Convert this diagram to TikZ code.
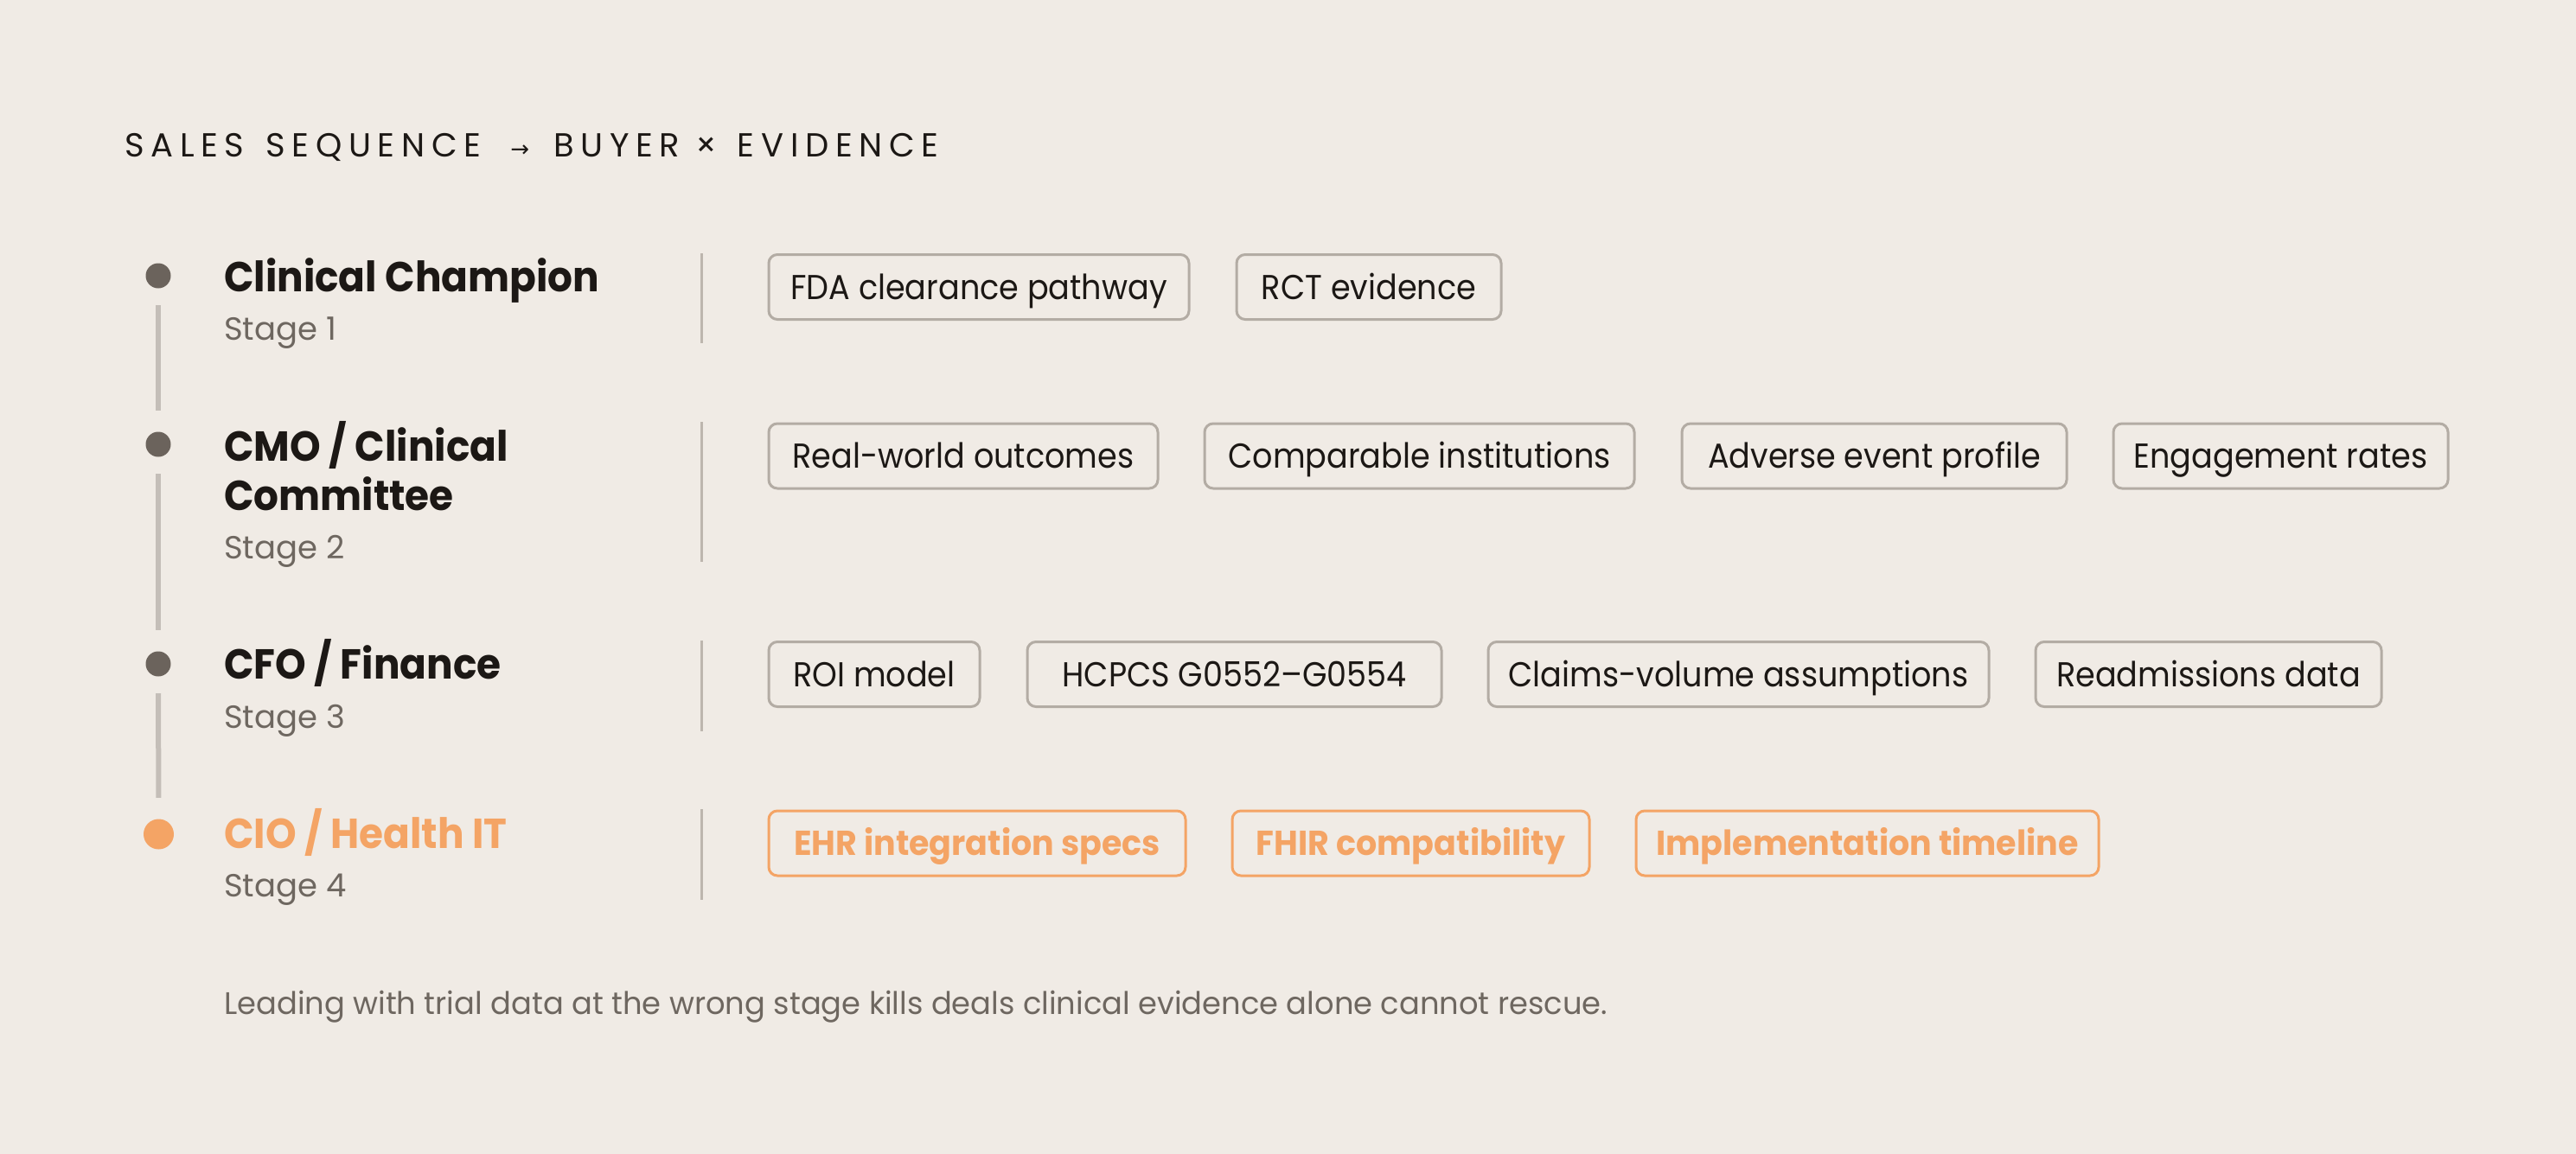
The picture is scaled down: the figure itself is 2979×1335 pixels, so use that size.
\documentclass[tikz,border=0pt]{standalone}
\usepackage{fontspec}
\setmainfont{Poppins}
\newfontfamily\symfont{DejaVu Sans}
\newfontfamily\headfont[FakeStretch=0.935]{Poppins}
\newfontfamily\tagfont[FakeStretch=0.915]{Poppins}
\newfontfamily\tagboldfont[FakeStretch=0.95]{Poppins}
\newfontfamily\footfont[FakeStretch=0.98]{Poppins}
\newfontfamily\titlefont[LetterSpace=20]{Poppins}
\definecolor{bg}{HTML}{F0EBE5}
\definecolor{ink}{HTML}{1C1815}
\definecolor{muted}{HTML}{6E6760}
\definecolor{dotcol}{HTML}{6B635C}
\definecolor{railcol}{HTML}{C4BEB8}
\definecolor{sepcol}{HTML}{BDB6AE}
\definecolor{tagline}{HTML}{B3ACA4}
\definecolor{accent}{HTML}{F4A465}
\begin{document}
\begin{tikzpicture}[x=1pt,y=-1pt,
  head/.style={anchor=base west, inner sep=0pt, font=\headfont\fontsize{48.5}{57}\selectfont\bfseries, text=ink},
  stagelbl/.style={anchor=base west, inner sep=0pt, font=\fontsize{37}{44}\selectfont, text=muted},
  tagbox/.style={draw=tagline, line width=3pt, rounded corners=10pt, minimum height=75pt, inner sep=0pt, anchor=west, text height=28pt, text depth=0pt, font=\tagfont\fontsize{40}{48}\selectfont, text=ink},
  tagacc/.style={tagbox, draw=accent, text=accent, font=\tagboldfont\fontsize{40}{48}\selectfont\bfseries},
  sepline/.style={draw=sepcol, line width=3pt},
  rail/.style={draw=railcol, line width=6pt, shorten <=19.5pt, shorten >=24.5pt},
  dotnode/.style={circle, fill=dotcol, minimum size=29pt, inner sep=0pt},
  dotacc/.style={circle, fill=accent, minimum size=35pt, inner sep=0pt}
]
\fill[bg] (0,0) rectangle (2979,1335);
\useasboundingbox (0,0) rectangle (2979,1335);

% title
\node[anchor=base west, inner sep=0pt, font=\titlefont\fontsize{38.5}{46}\selectfont, text=ink] (title) at (144,182)
  {SALES\hspace{7pt} SEQUENCE\hspace{34pt}{\symfont\fontsize{26}{36}\selectfont →}\hspace{28pt}BUYER × \hspace{6pt}EVIDENCE};

% timeline dots
\node[dotnode] (d1) at (183,319) {};
\node[dotnode] (d2) at (183,514) {};
\node[dotnode] (d3) at (183,768) {};
\node[dotacc]  (d4) at (183.5,965) {};
\draw[rail] (d1) -- (d2);
\draw[rail] (d2) -- (d3);
\draw[rail] (d3) -- (d4);

% headings
\node[head] (h1) at (259,337) {Clinical Champion};
\node[stagelbl] (st1) at (259,393) {Stage 1};
\node[head] (h2a) at (259,533) {CMO / Clinical};
\node[head] (h2b) at (259,590) {Committee};
\node[stagelbl] (st2) at (259,646) {Stage 2};
\node[head] (h3) at (259,785) {CFO / Finance};
\node[stagelbl] (st3) at (259,842) {Stage 3};
\node[head, text=accent] (h4) at (259,981) {CIO / Health IT};
\node[stagelbl] (st4) at (259,1037) {Stage 4};

% separators
\coordinate (s1t) at (811,293); \coordinate (s1b) at (811,397);
\coordinate (s2t) at (811,488); \coordinate (s2b) at (811,650);
\coordinate (s3t) at (811,741); \coordinate (s3b) at (811,846);
\coordinate (s4t) at (811,936); \coordinate (s4b) at (811,1041);
\draw[sepline] (s1t) -- (s1b);
\draw[sepline] (s2t) -- (s2b);
\draw[sepline] (s3t) -- (s3b);
\draw[sepline] (s4t) -- (s4b);

% row 1
\node[tagbox, minimum width=486pt] (t11) at (887.5,332) {FDA clearance pathway};
\node[tagbox, minimum width=306pt] (t12) at (1428.5,332) {RCT evidence};
% row 2
\node[tagbox, minimum width=450pt] (t21) at (887.5,527.5) {Real-world outcomes};
\node[tagbox, minimum width=497pt] (t22) at (1391.5,527.5) {Comparable institutions};
\node[tagbox, minimum width=445pt] (t23) at (1943.5,527.5) {Adverse event profile};
\node[tagbox, minimum width=387pt] (t24) at (2442.5,527.5) {Engagement rates};
% row 3
\node[tagbox, minimum width=244pt] (t31) at (887.5,780) {ROI model};
\node[tagbox, minimum width=479pt] (t32) at (1186.5,780) {HCPCS G0552–G0554};
\node[tagbox, minimum width=579pt] (t33) at (1719.5,780) {Claims-volume assumptions};
\node[tagbox, minimum width=400pt] (t34) at (2352.5,780) {Readmissions data};
% row 4
\node[tagacc, minimum width=482pt] (t41) at (887.5,975.5) {EHR integration specs};
\node[tagacc, minimum width=413pt] (t42) at (1423.5,975.5) {FHIR compatibility};
\node[tagacc, minimum width=535pt] (t43) at (1890.5,975.5) {Implementation timeline};

% footnote
\node[anchor=base west, inner sep=0pt, font=\footfont\fontsize{36}{43}\selectfont, text=muted] (foot) at (259,1173)
  {Leading with trial data at the wrong stage kills deals clinical evidence alone cannot rescue.};
\end{tikzpicture}
\end{document}
